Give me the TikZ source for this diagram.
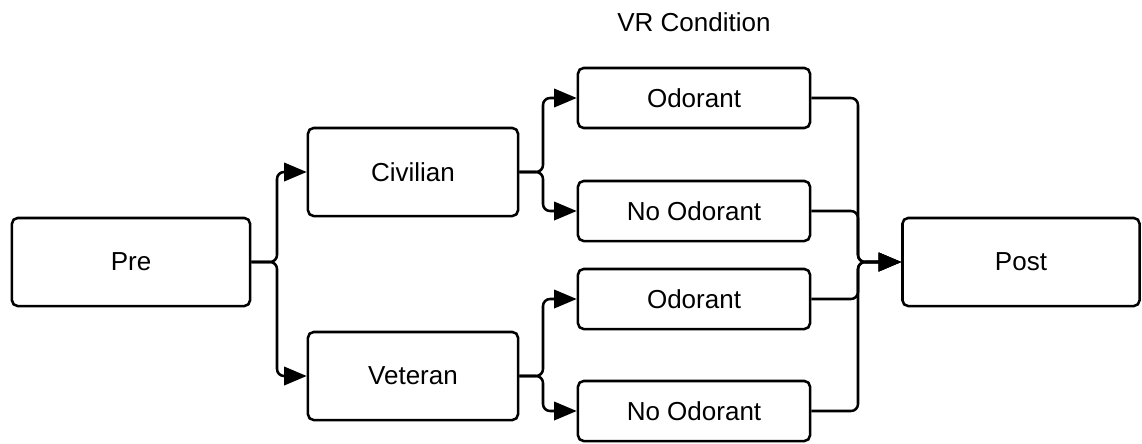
\documentclass[tikz,border=0pt]{standalone}
\usepackage{fontspec}
\setmainfont{Liberation Sans}
\usetikzlibrary{arrows.meta}
\tikzset{
  box/.style={draw, line width=1.8pt, rounded corners=4pt, minimum height=2.2cm,
    font=\fontsize{18.5}{22}\selectfont},
  smallbox/.style={box, minimum height=1.5cm, minimum width=5.8cm},
  link/.style={line width=1.8pt, rounded corners=5pt},
  arrow/.style={link, -{Triangle[length=16pt,width=13pt]}}
}
\begin{document}
\begin{tikzpicture}[x=0.025cm,y=-0.025cm]
  \useasboundingbox (0,0) rectangle (1142,443);
  \draw
    (131,262) node[box, minimum width=5.95cm] (pre){Pre}
    (413,172) node[box, minimum width=5.25cm] (civ){Civilian}
    (413,376) node[box, minimum width=5.25cm] (vet){Veteran}
    (694,98) node[smallbox] (odor1){Odorant}
    (694,211) node[smallbox] (none1){No Odorant}
    (694,299) node[smallbox] (odor2){Odorant}
    (694,411) node[smallbox] (none2){No Odorant}
    (1021,262) node[box, minimum width=5.925cm] (post){Post}
    (694,22) node[font=\fontsize{18.5}{22}\selectfont] (vr){VR Condition};
  \coordinate (split0) at (277,262);
  \coordinate (split1) at (543,172);
  \coordinate (split2) at (543,376);
  \coordinate (merge) at (858,262);
  \begin{scope}[arrow]
    \draw (pre.east) -- (split0) |- (civ.west);
    \draw (pre.east) -- (split0) |- (vet.west);
    \draw (civ.east) -- (split1) |- (odor1.west);
    \draw (civ.east) -- (split1) |- (none1.west);
    \draw (vet.east) -- (split2) |- (odor2.west);
    \draw (vet.east) -- (split2) |- (none2.west);
    \draw (odor1.east) -| (merge) -- (post.west);
    \draw (none1.east) -| (merge) -- (post.west);
    \draw (odor2.east) -| (merge) -- (post.west);
    \draw (none2.east) -| (merge) -- (post.west);
  \end{scope}
\end{tikzpicture}
\end{document}
